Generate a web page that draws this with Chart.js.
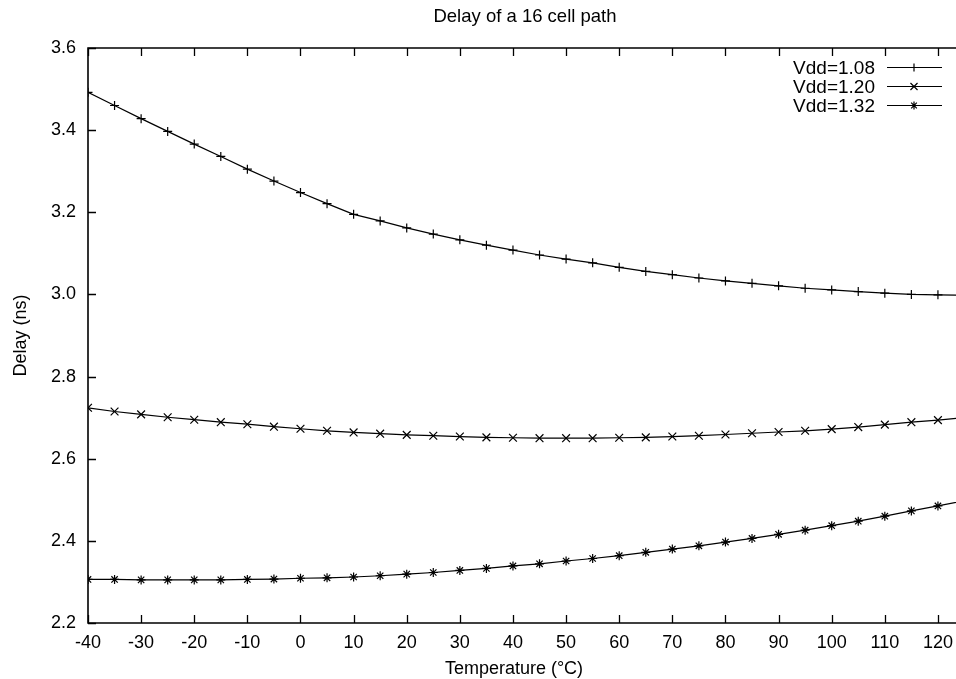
<!DOCTYPE html>
<html>
<head>
<meta charset="utf-8">
<script src="https://cdn.jsdelivr.net/npm/chart.js@4.4.1/dist/chart.umd.min.js"></script>
<style>
  html, body { margin: 0; padding: 0; background: #fff; overflow: hidden; }
  #wrap { width: 956px; height: 679px; }
  canvas { display: block; }
</style>
</head>
<body>
<div id="wrap"><canvas id="c" width="956" height="679"></canvas></div>
<script>
// ---- data ----
const chartTitle = "Delay of a 16 cell path";
const xTitle = "Temperature (\u00B0C)";
const yTitle = "Delay (ns)";
const temps = [-40,-35,-30,-25,-20,-15,-10,-5,0,5,10,15,20,25,30,35,40,45,50,55,60,65,70,75,80,85,90,95,100,105,110,115,120,125];
const seriesNames = ["Vdd=1.08", "Vdd=1.20", "Vdd=1.32"];
const vdd108 = [3.492,3.460,3.428,3.397,3.366,3.336,3.305,3.276,3.248,3.221,3.195,3.179,3.162,3.147,3.133,3.120,3.108,3.096,3.086,3.077,3.066,3.056,3.048,3.040,3.033,3.027,3.021,3.015,3.011,3.007,3.003,3.000,2.999,2.998];
const vdd120 = [2.724,2.715,2.708,2.701,2.695,2.689,2.684,2.678,2.673,2.668,2.664,2.661,2.658,2.656,2.654,2.652,2.651,2.650,2.650,2.650,2.651,2.652,2.654,2.656,2.659,2.662,2.665,2.668,2.672,2.677,2.683,2.689,2.694,2.700];
const vdd132 = [2.306,2.306,2.305,2.305,2.305,2.305,2.306,2.307,2.309,2.310,2.312,2.315,2.319,2.323,2.328,2.333,2.339,2.344,2.351,2.357,2.364,2.372,2.380,2.388,2.397,2.406,2.416,2.426,2.437,2.448,2.460,2.473,2.485,2.498];
const xTicks = [-40,-30,-20,-10,0,10,20,30,40,50,60,70,80,90,100,110,120];
const yTicks = [2.2,2.4,2.6,2.8,3.0,3.2,3.4,3.6];
const markerStyles = ["cross", "crossRot", "star"];
const markerRadii = [4.5, 5.5, 4.5];

const FONT = "'Liberation Sans', Arial, Helvetica, sans-serif";
const allSeries = [vdd108, vdd120, vdd132];

const datasets = allSeries.map((vals, i) => ({
  label: seriesNames[i],
  data: temps.map((t, j) => ({ x: t, y: vals[j] })),
  borderColor: '#000',
  backgroundColor: '#000',
  borderWidth: 1.2,
  pointStyle: markerStyles[i],
  pointRadius: markerRadii[i],
  pointBorderWidth: 1.2,
  pointBorderColor: '#000',
  pointHoverRadius: markerRadii[i],
  tension: 0,
  fill: false
}));

const framePlugin = {
  id: 'frame',
  afterDraw(chart) {
    const ctx = chart.ctx;
    const a = chart.chartArea;
    const xs = chart.scales.x, ys = chart.scales.y;
    ctx.save();
    ctx.strokeStyle = '#000';
    ctx.lineWidth = 1.6;
    ctx.beginPath();
    ctx.moveTo(a.right + 2, a.top); ctx.lineTo(a.left, a.top);
    ctx.lineTo(a.left, a.bottom); ctx.lineTo(a.right + 2, a.bottom);
    ctx.stroke();
    ctx.lineWidth = 1.3;
    const tl = 8;
    ctx.beginPath();
    xTicks.forEach(v => {
      const px = Math.round(xs.getPixelForValue(v)) + 0.5;
      ctx.moveTo(px, a.bottom); ctx.lineTo(px, a.bottom - tl);
      ctx.moveTo(px, a.top); ctx.lineTo(px, a.top + tl);
    });
    yTicks.forEach(v => {
      const py = Math.round(ys.getPixelForValue(v)) + 0.5;
      ctx.moveTo(a.left, py); ctx.lineTo(a.left + tl, py);
    });
    ctx.stroke();

    ctx.fillStyle = '#000';
    // x tick labels
    ctx.font = '18px ' + FONT;
    ctx.textAlign = 'center';
    ctx.textBaseline = 'middle';
    xTicks.forEach(v => {
      ctx.fillText(String(v), xs.getPixelForValue(v), a.bottom + 20);
    });

    // titles
    ctx.font = '18.5px ' + FONT;
    ctx.fillText(chartTitle, 525, 17);
    ctx.font = '18px ' + FONT;
    ctx.fillText(xTitle, 514, 669);
    ctx.save();
    ctx.translate(21, (a.top + a.bottom) / 2);
    ctx.rotate(-Math.PI / 2);
    ctx.fillText(yTitle, 0, 0);
    ctx.restore();

    // legend
    const rows = [67, 86, 105];
    chart.data.datasets.forEach((ds, i) => {
      const y = rows[i];
      ctx.font = '19px ' + FONT;
      ctx.textAlign = 'right';
      ctx.textBaseline = 'middle';
      ctx.fillText(ds.label, 875, y + 2);
      ctx.lineWidth = 1.2;
      ctx.beginPath();
      ctx.moveTo(887, y + 0.5); ctx.lineTo(942, y + 0.5);
      ctx.stroke();
      Chart.helpers.drawPoint(ctx, {
        pointStyle: ds.pointStyle, radius: markerRadii[i] - 0.5, rotation: 0, borderWidth: 1.2
      }, 914, y + 0.5);
    });
    ctx.restore();
  }
};

new Chart(document.getElementById('c'), {
  type: 'line',
  data: { datasets },
  options: {
    responsive: false,
    animation: false,
    devicePixelRatio: 1,
    layout: { autoPadding: false, padding: { top: 48, right: 0, left: 0, bottom: 0 } },
    plugins: { legend: { display: false }, title: { display: false }, tooltip: { enabled: false } },
    scales: {
      x: {
        type: 'linear',
        min: -40,
        max: 123.4,
        border: { display: false },
        grid: { display: false, drawTicks: false },
        afterBuildTicks: s => { s.ticks = xTicks.map(v => ({ value: v })); },
        afterFit: s => { s.height = 56; },
        ticks: { display: false }
      },
      y: {
        type: 'linear',
        min: 2.2,
        max: 3.6,
        border: { display: false },
        grid: { display: false, drawTicks: false },
        afterBuildTicks: s => { s.ticks = yTicks.map(v => ({ value: v })); },
        afterFit: s => { s.width = 88; },
        ticks: {
          color: '#000',
          font: { family: FONT, size: 18 },
          padding: 12,
          autoSkip: false,
          callback: v => Number(v).toFixed(1)
        }
      }
    }
  },
  plugins: [framePlugin]
});
</script>
</body>
</html>
